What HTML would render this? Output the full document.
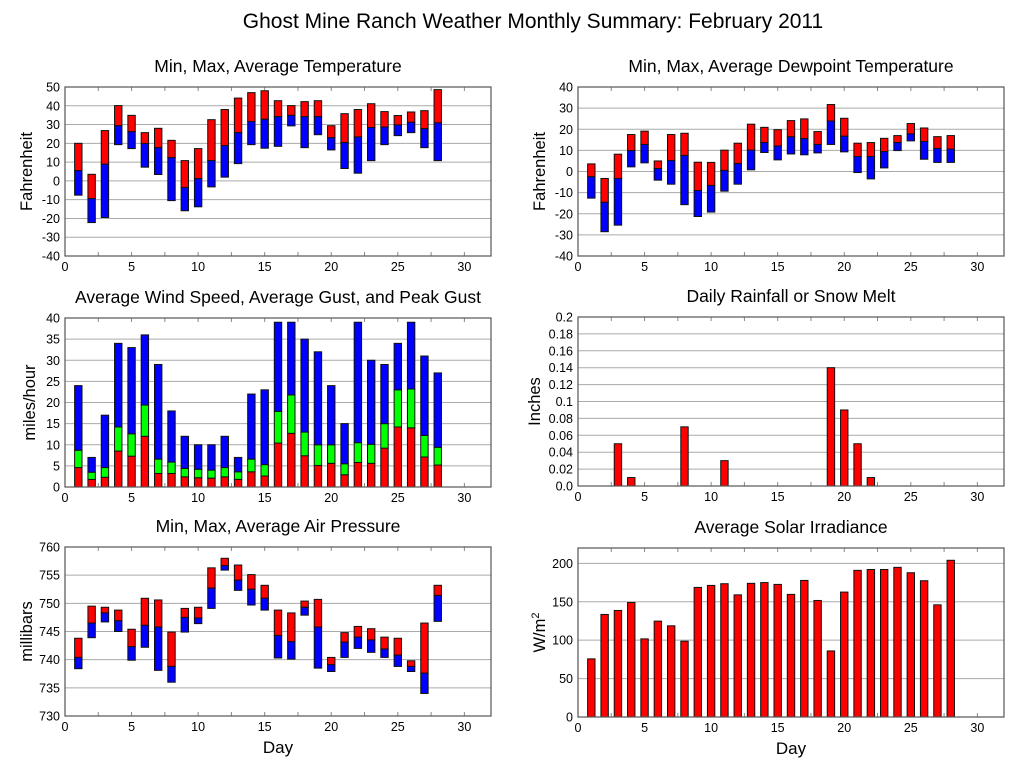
<!DOCTYPE html>
<html><head><meta charset="utf-8"><style>
body{margin:0;background:#fff;width:1027px;height:772px;overflow:hidden}
svg{display:block;font-family:"Liberation Sans",sans-serif}
</style></head><body>
<svg id="c" width="1027" height="772">
<text x="533" y="28" text-anchor="middle" font-size="21">Ghost Mine Ranch Weather Monthly Summary: February 2011</text>
</svg>
<script>
const days = [1,2,3,4,5,6,7,8,9,10,11,12,13,14,15,16,17,18,19,20,21,22,23,24,25,26,27,28];
const tempMax = [20,3.5,26.8,40.1,34.9,25.7,28,21.6,10.8,17.2,32.6,38,44.1,47,48,42.7,40.1,42.2,42.7,29.4,35.8,38,41.1,36.9,34.8,36.7,37.4,48.6];
const tempAvg = [5.5,-9.4,8.9,29.4,26.2,19.9,17.7,12.4,-3.5,1.2,10.8,18.8,25.7,31.6,32.8,34.2,34.9,34.2,34.2,23,20.4,23.4,28.4,28.7,29.8,31.2,27.8,30.9];
const tempMin = [-7.6,-22.2,-19.5,19.3,17.2,7.3,3.4,-10.5,-15.9,-13.8,-3.2,2,9.2,19.3,17.4,18.4,29.3,17.7,24.6,16.5,6.6,4.1,10.8,19.3,24.1,25.7,17.7,10.8];
const dewMax = [3.6,-3.3,8.2,17.5,19.1,5,17.5,18.1,4.4,4.3,10.1,13.4,22.4,20.9,19.8,24.1,24.9,18.9,31.7,25.2,13.4,13.7,15.7,17,22.7,20.6,16.5,17];
const dewAvg = [-2.5,-14.6,-3.3,9.9,12.8,1.4,5.2,7.6,-9,-6.6,0.5,3.8,10.1,13.7,12.1,16.4,15.6,12.8,23.9,16.7,7.1,7.1,9.4,13.7,17.8,14.2,10.9,10.6];
const dewMin = [-12.6,-28.5,-25.4,2.2,4.1,-4.1,-6,-15.7,-21.3,-19.2,-9.3,-6,0.8,9,5.5,8.3,7.9,8.8,12.8,9.3,-0.5,-3.5,1.7,9.9,14.5,5.8,4.3,4.3];
const windAvg = [4.6,1.8,2.3,8.5,7.3,12,3.2,3.2,2.4,2.2,2.1,2.4,1.8,3.6,2.6,10.4,12.7,7.4,5.1,5.6,2.9,5.8,5.6,9.2,14.2,14,7.1,5.2];
const gustAvg = [8.7,3.5,4.6,14.2,12.6,19.4,6.6,5.9,4.4,4.2,4,4.6,3.6,6.6,5.3,17.9,21.8,13,10,10,5.5,10.5,10.1,15,23,23.2,12.2,9.4];
const gustPeak = [24,7,17,34,33,36,29,18,12,10,10,12,7,22,23,39,39,35,32,24,15,39,30,29,34,39,31,27];
const rainDays = [3,4,8,11,19,20,21,22];
const rainVals = [0.05,0.01,0.07,0.03,0.14,0.09,0.05,0.01];
const presMax = [743.8,749.5,749.3,748.8,745.4,750.9,750.6,744.9,749.1,749.3,756.3,758,756.8,755.1,753.2,748.8,748.3,750.4,750.7,740.4,744.8,745.9,745.5,744,743.8,739.8,746.5,753.2];
const presAvg = [740.4,746.5,748.3,746.9,742.3,746.1,745.8,738.8,747.5,747.4,752.7,756.7,754.1,752.5,750.9,744.3,743.2,749.3,745.8,739.1,743.1,744,743.5,741.9,740.8,738.8,737.6,751.4];
const presMin = [738.4,743.9,746.7,745,739.9,742.2,738.1,736,744.9,746.4,749.1,755.9,752.3,749.7,748.8,740.3,740.1,747.9,738.5,737.9,740.4,742,741.3,740.4,738.8,737.9,734,746.8];
const solar = [75.7,133.5,138.7,149,101.7,124.8,118.7,98.7,168.7,171.3,173.5,159,174,175,172.6,159.6,177.8,151.7,86,162.6,190.9,192,192,194.8,187.8,177.4,146,204];
const xTicks = [0,5,10,15,20,25,30];
const tempTicks = [-40,-30,-20,-10,0,10,20,30,40,50];
const windTicks = [0,5,10,15,20,25,30,35,40];
const rainTicks = [0,0.02,0.04,0.06,0.08,0.1,0.12,0.14,0.16,0.18,0.2];
const rainLabels = ["0.0","0.02","0.04","0.06","0.08","0.1","0.12","0.14","0.16","0.18","0.2"];
const presTicks = [730,735,740,745,750,755,760];
const solarTicks = [0,50,100,150,200];

const NS="http://www.w3.org/2000/svg";
const svg=document.getElementById('c');
function mk(tag,attrs,parent){const e=document.createElementNS(NS,tag);for(const k in attrs)e.setAttribute(k,attrs[k]);(parent||svg).appendChild(e);return e;}

function panel(opt){
  const g=mk('g',{});
  
  
  const L=opt.x,T=opt.y,W=426,H=169;
  const xs=d=>L+d/32*W;
  const ys=v=>T+H-(v-opt.ymin)/(opt.ymax-opt.ymin)*H;
  const t=mk('text',{x:L+W/2,y:T-15,'text-anchor':'middle','font-size':17.5},g);t.textContent=opt.title;
  
  
  opt.yticks.forEach((v,i)=>{
    const y=ys(v);
    if(v>opt.ymin&&v<opt.ymax){const gl=mk('line',{x1:L,x2:L+W,y1:y,y2:y,stroke:'#aaa','stroke-width':1},g);
      
      }
    const lb=mk('text',{x:L-5,y:y+4.5,'text-anchor':'end','font-size':12.5},g);lb.textContent=opt.ylabels?opt.ylabels[i]:v;
    
    
  });
  for(let d=2.5;d<32;d+=2.5){const x=xs(d);
    mk('line',{x1:x,x2:x,y1:T,y2:T+4,stroke:'#888'},g);
    mk('line',{x1:x,x2:x,y1:T+H,y2:T+H-4,stroke:'#888'},g);}
  xTicks.forEach(d=>{const lb=mk('text',{x:xs(d),y:T+H+15,'text-anchor':'middle','font-size':12.5},g);lb.textContent=d;
    
    });
  const yt=mk('text',{transform:`translate(${opt.ytx},${T+H/2}) rotate(-90)`,'text-anchor':'middle','font-size':16.5},g);
  
  
  if(opt.ytitle==='W/m2'){yt.innerHTML='W/m<tspan dy="-6" font-size="11">2</tspan>';}else yt.textContent=opt.ytitle;
  const bw=7.4;
  opt.series.forEach(s=>{
    s.days.forEach((d,i)=>{
      const a=ys(s.lo[i]),b=ys(s.hi[i]);
      const r=mk('rect',{x:xs(d)-bw/2,y:Math.min(a,b),width:bw,height:Math.abs(a-b),fill:s.color,stroke:'#111','stroke-width':1},g);
      
      
    });
  });
  const fr=mk('rect',{x:L,y:T,width:W,height:H,fill:'none',stroke:'#555','stroke-width':1.2},g);
  
  
  if(opt.xtitle){const xt=mk('text',{x:L+W/2,y:T+H+37,'text-anchor':'middle','font-size':17},g);xt.textContent='Day';
    
    }
}
const zeros=days.map(()=>0);
panel({name:'temperature-panel',title:'Min, Max, Average Temperature',x:65,y:87,ymin:-40,ymax:50,yticks:tempTicks,ytitle:'Fahrenheit',ytx:32,
  series:[{name:'temp-max-avg',days,lo:tempAvg,hi:tempMax,color:'#ff0000'},{name:'temp-avg-min',days,lo:tempMin,hi:tempAvg,color:'#0000ff'}]});
panel({name:'dewpoint-panel',title:'Min, Max, Average Dewpoint Temperature',x:578,y:87,ymin:-40,ymax:40,yticks:tempTicks.slice(0,9),ytitle:'Fahrenheit',ytx:545,
  series:[{name:'dew-max-avg',days,lo:dewAvg,hi:dewMax,color:'#ff0000'},{name:'dew-avg-min',days,lo:dewMin,hi:dewAvg,color:'#0000ff'}]});
panel({name:'wind-panel',title:'Average Wind Speed, Average Gust, and Peak Gust',x:65,y:318,ymin:0,ymax:40,yticks:windTicks,ytitle:'miles/hour',ytx:35,
  series:[{name:'wind-avg',days,lo:zeros,hi:windAvg,color:'#ff0000'},{name:'gust-avg',days,lo:windAvg,hi:gustAvg,color:'#00ff00'},{name:'gust-peak',days,lo:gustAvg,hi:gustPeak,color:'#0000ff'}]});
panel({name:'rainfall-panel',title:'Daily Rainfall or Snow Melt',x:578,y:317,ymin:0,ymax:0.2,yticks:rainTicks,ylabels:rainLabels,ytitle:'Inches',ytx:540,
  series:[{name:'rain',days:rainDays,lo:rainDays.map(()=>0),hi:rainVals,color:'#ff0000'}]});
panel({name:'pressure-panel',title:'Min, Max, Average Air Pressure',x:65,y:547,ymin:730,ymax:760,yticks:presTicks,ytitle:'millibars',ytx:32,xtitle:true,
  series:[{name:'pres-max-avg',days,lo:presAvg,hi:presMax,color:'#ff0000'},{name:'pres-avg-min',days,lo:presMin,hi:presAvg,color:'#0000ff'}]});
panel({name:'solar-panel',title:'Average Solar Irradiance',x:578,y:548,ymin:0,ymax:220,yticks:solarTicks,ytitle:'W/m2',ytx:545,xtitle:true,
  series:[{name:'solar',days,lo:zeros,hi:solar,color:'#ff0000'}]});
</script>
</body></html>
